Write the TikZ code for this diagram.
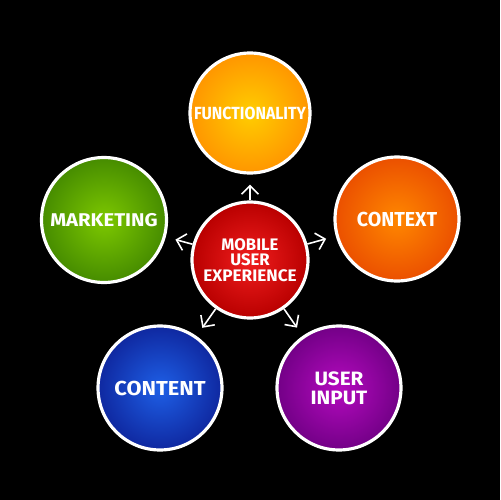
\documentclass[tikz,border=0pt]{standalone}
\usepackage{fontspec}
\usepackage{graphicx}
\setmainfont{Fira Sans}
\usetikzlibrary{arrows.meta}
\definecolor{funcIn}{RGB}{255,205,0}
\definecolor{funcOut}{RGB}{255,150,0}
\definecolor{ctxIn}{RGB}{255,135,0}
\definecolor{ctxOut}{RGB}{235,80,0}
\definecolor{uinIn}{RGB}{180,10,190}
\definecolor{uinOut}{RGB}{115,0,135}
\definecolor{cntIn}{RGB}{30,95,230}
\definecolor{cntOut}{RGB}{15,40,160}
\definecolor{mktIn}{RGB}{125,200,0}
\definecolor{mktOut}{RGB}{70,140,0}
\definecolor{midIn}{RGB}{240,30,30}
\definecolor{midOut}{RGB}{185,0,0}
\tikzset{
  bubble/.style={circle, draw=white, line width=1.8pt, shading=radial,
    minimum size=2.44cm, inner sep=0pt},
  txt/.style={text=white, align=center, inner sep=0pt,
    font=\bfseries\fontsize{11}{11}\selectfont},
  link/.style={draw=white, line width=0.9pt,
    -{Straight Barb[length=1.7mm,width=3.4mm,line width=0.9pt]},
    shorten >=0.2cm}
}
\begin{document}
\begin{tikzpicture}[x=0.02cm,y=-0.02cm]
\fill[black] (0,0) rectangle (500,500);
\useasboundingbox (0,0) rectangle (500,500);
\node[bubble, minimum size=2.32cm, inner color=midIn, outer color=midOut,
  label={[txt, font=\bfseries\fontsize{9.5}{8.8}\selectfont]center:{MOBILE\\USER\\\scalebox{1.03}[1]{EXPERIENCE}}}] (mid) at (250,260) {};
\node[bubble, minimum size=2.4cm, inner color=funcIn, outer color=funcOut,
  label={[txt, font=\bfseries\fontsize{10}{10}\selectfont]center:\scalebox{0.9}[1]{FUNCTIONALITY}}] (func) at (250,113) {};
\node[bubble, minimum size=2.48cm, inner color=ctxIn, outer color=ctxOut,
  label={[txt, font=\bfseries\fontsize{11.5}{11.5}\selectfont]center:\scalebox{0.97}[1]{CONTEXT}}] (ctx) at (397,219) {};
\node[bubble, minimum size=2.48cm, inner color=uinIn, outer color=uinOut,
  label={[txt, font=\bfseries\fontsize{11}{10.8}\selectfont]center:{\scalebox{1.07}[1]{USER}\\\scalebox{1.07}[1]{INPUT}}}] (uin) at (339,388) {};
\node[bubble, minimum size=2.48cm, inner color=cntIn, outer color=cntOut,
  label={[txt, font=\bfseries\fontsize{11.5}{11.5}\selectfont]center:\scalebox{1.08}[1]{CONTENT}}] (cnt) at (160,388) {};
\node[bubble, minimum size=2.5cm, inner color=mktIn, outer color=mktOut,
  label={[txt, font=\bfseries\fontsize{10.5}{10.5}\selectfont]center:\scalebox{1.1}[1]{MARKETING}}] (mkt) at (104,220) {};
\foreach \t in {func,ctx,uin,cnt,mkt}{
  \draw[link] (mid) -- (\t);
}
\end{tikzpicture}
\end{document}
